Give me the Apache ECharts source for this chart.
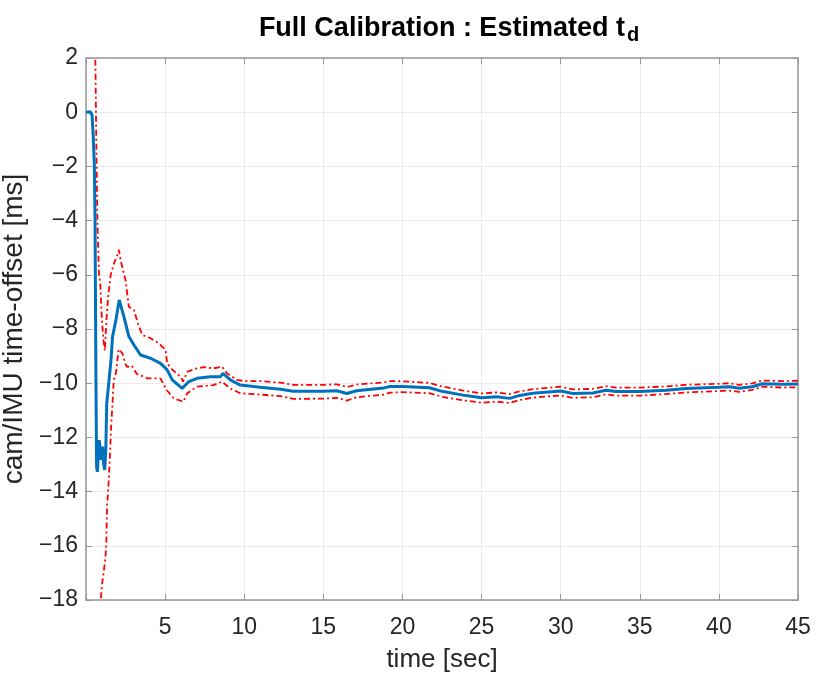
<!DOCTYPE html>
<html>
<head>
<meta charset="utf-8">
<script src="https://cdn.jsdelivr.net/npm/echarts@6/dist/echarts.min.js"></script>
<style>
html,body{margin:0;padding:0;background:#fff;}
#chart{width:819px;height:680px;}
</style>
</head>
<body>
<div id="chart"></div>
<script>
// Estimated time offset t_d (blue)
var estTime = [0, 0.25, 0.38, 0.46, 0.53, 0.57, 0.61, 0.63, 0.67, 0.72, 0.78, 0.84, 0.95, 1.05, 1.12, 1.18, 1.25, 1.31, 1.43, 1.58, 1.68, 1.89, 2.1, 2.4, 2.71, 3.03, 3.45, 4.08, 4.71, 5.13, 5.45, 6.08, 6.5, 7.02, 7.86, 8.5, 8.66, 9.12, 9.75, 11, 12.3, 13.1, 15, 15.85, 16.48, 17.1, 18.8, 19.2, 20, 21.7, 22.5, 23.83, 25, 25.94, 26.78, 27.4, 28.25, 30, 30.77, 32.03, 32.87, 33.5, 35, 36.66, 37.92, 40, 40.65, 41.28, 42.1, 42.75, 44, 45];
var estValues = [0, 0.02, -0.1, -0.9, -2.0, -3.9, -8.0, -10.0, -13.1, -13.27, -12.6, -12.1, -12.83, -12.34, -13.0, -13.2, -12.5, -10.74, -10.04, -9.14, -8.28, -7.67, -6.93, -7.55, -8.28, -8.59, -8.96, -9.08, -9.27, -9.51, -9.88, -10.19, -9.94, -9.82, -9.76, -9.76, -9.64, -9.88, -10.07, -10.15, -10.22, -10.3, -10.3, -10.28, -10.38, -10.28, -10.18, -10.12, -10.12, -10.17, -10.3, -10.44, -10.54, -10.5, -10.56, -10.45, -10.37, -10.29, -10.38, -10.36, -10.26, -10.31, -10.31, -10.26, -10.2, -10.15, -10.13, -10.19, -10.13, -10.02, -10.04, -10.03];

// Upper bound (red dash-dot)
var upperTime = [0.5, 0.59, 0.65, 0.72, 0.82, 0.9, 1.0, 1.1, 1.19, 1.3, 1.4, 1.56, 1.77, 1.98, 2.08, 2.2, 2.5, 2.71, 3.03, 3.34, 3.56, 4.08, 4.6, 5.03, 5.13, 5.45, 5.97, 6.14, 6.39, 7.02, 7.44, 8.07, 8.6, 8.92, 9.55, 10, 11, 12.3, 13.1, 15, 15.85, 16.48, 17.1, 18.8, 19.2, 20, 21.7, 22.5, 23.83, 25, 25.94, 26.78, 27.4, 28.25, 30, 30.77, 32.03, 32.87, 33.5, 35, 36.66, 37.92, 40, 40.65, 41.28, 42.1, 42.75, 44, 45];
var upperValues = [4, 2, -1, -4, -6, -6.3, -7.6, -8.4, -8.8, -7.6, -6.8, -6.0, -5.58, -5.27, -5.08, -5.5, -6.2, -7.18, -7.3, -7.9, -8.22, -8.34, -8.53, -8.77, -9.27, -9.5, -9.76, -9.94, -9.58, -9.45, -9.41, -9.45, -9.39, -9.64, -9.88, -9.92, -9.92, -9.98, -10.06, -10.06, -10.04, -10.14, -10.05, -9.97, -9.92, -9.93, -9.99, -10.12, -10.27, -10.38, -10.34, -10.4, -10.3, -10.22, -10.13, -10.23, -10.21, -10.11, -10.16, -10.16, -10.12, -10.06, -10.02, -10.0, -10.06, -10.01, -9.9, -9.92, -9.91];

// Lower bound (red dash-dot)
var lowerTime = [0.85, 0.93, 1.02, 1.2, 1.28, 1.33, 1.4, 1.5, 1.6, 1.68, 1.75, 1.9, 2.06, 2.3, 2.5, 2.6, 2.9, 3.2, 3.9, 4.7, 5.1, 5.55, 6.15, 6.4, 7.0, 8.05, 8.6, 9.1, 9.75, 11, 12.3, 13.1, 15, 15.85, 16.48, 17.1, 18.8, 19.2, 20, 21.7, 22.5, 23.83, 25, 25.94, 26.78, 27.4, 28.25, 30, 30.77, 32.03, 32.87, 33.5, 35, 36.66, 37.92, 40, 40.65, 41.28, 42.1, 42.75, 44, 45];
var lowerValues = [-20, -18, -17.4, -16.6, -16.0, -14.5, -14.0, -12.8, -11.5, -10.7, -9.9, -9.6, -8.75, -8.9, -9.3, -9.4, -9.35, -9.65, -9.82, -9.82, -10.25, -10.56, -10.68, -10.37, -10.13, -10.07, -9.94, -10.19, -10.37, -10.42, -10.48, -10.58, -10.57, -10.54, -10.64, -10.52, -10.42, -10.35, -10.33, -10.37, -10.5, -10.63, -10.72, -10.68, -10.73, -10.62, -10.53, -10.45, -10.54, -10.52, -10.41, -10.46, -10.46, -10.4, -10.34, -10.29, -10.27, -10.32, -10.25, -10.13, -10.16, -10.15];

var xTickInterval = 5;
var yTicks = { min: -18, max: 2, interval: 2 };

function pairs(t, v) { return t.map(function (x, i) { return [x, v[i]]; }); }

var FONT = 'Liberation Sans';
var axisGray = '#969696';
var labelColor = '#262626';
var gridGray = '#ebebeb';

var chart = echarts.init(document.getElementById('chart'));
var redStyle = { color: '#ff0000', width: 1.8, type: [6, 3, 2, 3] };

chart.setOption({
  animation: false,
  backgroundColor: '#ffffff',
  title: {
    text: '{a|Full Calibration : Estimated t}{b|d}',
    left: 444,
    top: 10,
    textAlign: 'center',
    textStyle: {
      rich: {
        a: { fontFamily: FONT, fontSize: 27, fontWeight: 'bold', color: '#000', lineHeight: 30, verticalAlign: 'top' },
        b: { fontFamily: FONT, fontSize: 20, fontWeight: 'bold', color: '#000', lineHeight: 20, verticalAlign: 'bottom', padding: [22, 0, 0, 2] }
      }
    }
  },
  grid: { left: 86, right: 21, top: 58, bottom: 80, containLabel: false, outerBoundsMode: 'none' },
  xAxis: [{
    type: 'value', min: 0, max: 45, interval: xTickInterval,
    name: 'time [sec]', nameLocation: 'middle', nameGap: 47,
    nameTextStyle: { fontFamily: FONT, fontSize: 26, color: labelColor },
    axisLine: { show: true, onZero: false, lineStyle: { color: axisGray, width: 1.5 } },
    axisTick: { show: true, inside: true, length: 6, lineStyle: { color: axisGray } },
    axisLabel: { fontFamily: FONT, fontSize: 23, color: labelColor, margin: 16,
      formatter: function (v) { return v === 0 ? '' : String(v); } },
    splitLine: { show: true, lineStyle: { color: gridGray, width: 1 } }
  }, {
    type: 'value', min: 0, max: 45, interval: xTickInterval, position: 'top',
    axisLine: { show: true, onZero: false, lineStyle: { color: axisGray, width: 1.5 } },
    axisTick: { show: true, inside: true, length: 6, lineStyle: { color: axisGray } },
    axisLabel: { show: false }, splitLine: { show: false }
  }],
  yAxis: [{
    type: 'value', min: yTicks.min, max: yTicks.max, interval: yTicks.interval,
    name: 'cam/IMU time-offset [ms]', nameLocation: 'middle', nameGap: 49,
    nameTextStyle: { fontFamily: FONT, fontSize: 28, color: labelColor },
    axisLine: { show: true, onZero: false, lineStyle: { color: axisGray, width: 1.5 } },
    axisTick: { show: true, inside: true, length: 6, lineStyle: { color: axisGray } },
    axisLabel: { fontFamily: FONT, fontSize: 23, color: labelColor, margin: 8,
      formatter: function (v) { return String(v).replace('-', '\u2212'); } },
    splitLine: { show: true, lineStyle: { color: gridGray, width: 1 } }
  }, {
    type: 'value', min: yTicks.min, max: yTicks.max, interval: yTicks.interval, position: 'right',
    axisLine: { show: true, onZero: false, lineStyle: { color: axisGray, width: 1.5 } },
    axisTick: { show: true, inside: true, length: 6, lineStyle: { color: axisGray } },
    axisLabel: { show: false }, splitLine: { show: false }
  }],
  series: [
    { type: 'line', name: 'upper', data: pairs(upperTime, upperValues), showSymbol: false, symbol: 'none', clip: true, lineStyle: redStyle, z: 3 },
    { type: 'line', name: 'lower', data: pairs(lowerTime, lowerValues), showSymbol: false, symbol: 'none', clip: true, lineStyle: redStyle, z: 3 },
    { type: 'line', name: 'estimate', data: pairs(estTime, estValues), showSymbol: false, symbol: 'none', clip: true,
      lineStyle: { color: '#0072bd', width: 3 }, z: 4 }
  ]
});
</script>
</body>
</html>
